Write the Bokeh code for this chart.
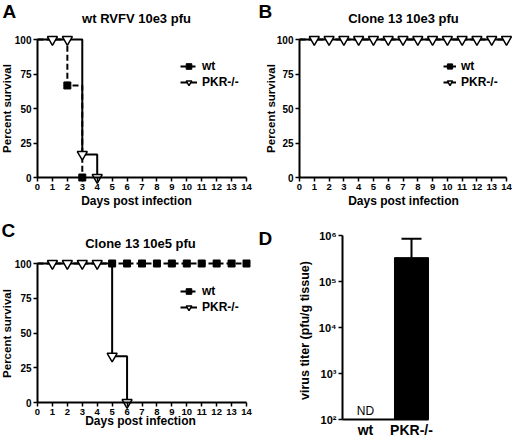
import math
from bokeh.plotting import figure
from bokeh.models import (Range1d, FixedTicker, Label, Legend,
                          Whisker, TeeHead, ColumnDataSource)
from bokeh.layouts import column, row
from bokeh.embed import file_html
from bokeh.resources import INLINE

FONT = "Liberation Sans"

# ---------------- data ----------------
day_ticks = [0, 1, 2, 3, 4, 5, 6, 7, 8, 9, 10, 11, 12, 13, 14]
surv_ticks = [0, 25, 50, 75, 100]
series_names = ["wt", "PKR-/-"]

# Panel A: wt RVFV 10e3 pfu
a_wt_days = [0, 2, 3]
a_wt_surv = [100, 66.7, 0]
a_wt_mark_days = [2, 3]
a_wt_mark_surv = [66.7, 0]
a_pkr_days = [0, 3, 4]
a_pkr_surv = [100, 16.7, 0]
a_pkr_mark_days = [1, 2, 3, 4]
a_pkr_mark_surv = [100, 100, 16.7, 0]

# Panel B: Clone 13 10e3 pfu (wt symbols hidden behind PKR-/- symbols)
b_wt_days = [0, 14]
b_wt_surv = [100, 100]
b_wt_mark_days = [1, 2, 3, 4, 5, 6, 7, 8, 9, 10, 11, 12, 13, 14]
b_wt_mark_surv = [100, 100, 100, 100, 100, 100, 100, 100, 100, 100, 100, 100, 100, 100]
b_pkr_days = [0, 14]
b_pkr_surv = [100, 100]
b_pkr_mark_days = [1, 2, 3, 4, 5, 6, 7, 8, 9, 10, 11, 12, 13, 14]
b_pkr_mark_surv = [100, 100, 100, 100, 100, 100, 100, 100, 100, 100, 100, 100, 100, 100]

# Panel C: Clone 13 10e5 pfu
c_wt_days = [0, 14]
c_wt_surv = [100, 100]
c_wt_mark_days = [5, 6, 7, 8, 9, 10, 11, 12, 13, 14]
c_wt_mark_surv = [100, 100, 100, 100, 100, 100, 100, 100, 100, 100]
c_pkr_days = [0, 5, 6]
c_pkr_surv = [100, 33.3, 0]
c_pkr_mark_days = [1, 2, 3, 4, 5, 6]
c_pkr_mark_surv = [100, 100, 100, 100, 33.3, 0]

# Panel D: virus titer (wt not detected)
groups = ["wt", "PKR-/-"]
titer = [None, 3.3e5]
titer_upper = [None, 8.5e5]
log_ticks = [1e2, 1e3, 1e4, 1e5, 1e6]
log_tick_labels = ["10\u00b2", "10\u00b3", "10\u2074", "10\u2075", "10\u2076"]

FIG_W = 256


def style_axis(ax, size):
    ax.axis_line_width = 2
    ax.axis_line_color = "black"
    ax.major_tick_line_width = 1.5
    ax.major_tick_line_color = "black"
    ax.major_tick_out = 4
    ax.major_tick_in = 0
    ax.minor_tick_line_color = None
    ax.major_label_text_font = FONT
    ax.major_label_text_font_style = "bold"
    ax.major_label_text_font_size = size
    ax.major_label_text_color = "black"
    ax.major_label_standoff = 2


def base_fig(h, xr, yr, **kw):
    p = figure(width=FIG_W, height=h, x_range=xr, y_range=yr,
               output_backend="svg", toolbar_location=None,
               min_border_left=0, min_border_right=0,
               min_border_top=0, min_border_bottom=0, **kw)
    p.title.visible = False
    p.outline_line_color = None
    p.grid.visible = False
    p.background_fill_color = "white"
    p.border_fill_color = "white"
    return p


def add_text(p, origin, fig_h, text, px, py, size, style="bold", angle=0.0,
             align="center", baseline="middle"):
    ox, oy = origin
    p.add_layout(Label(x=px - ox, y=oy + fig_h - py,
                       x_units="screen", y_units="screen",
                       text=text, angle=angle, text_font=FONT,
                       text_font_size=size, text_font_style=style,
                       text_align=align, text_baseline=baseline,
                       text_color="black"))


def survival_panel(origin, fig_h, x0_px, x14_px, y100_px, y0_px,
                   wt_days, wt_surv, wt_mdays, wt_msurv,
                   pkr_days, pkr_surv, pkr_mdays, pkr_msurv,
                   letter, letter_pos, title, title_pos, ylab_pos, xlab_pos,
                   leg_pos, glyph_w, wt_marks_visible=True):
    ox, oy = origin
    kx = (x14_px - x0_px) / (day_ticks[-1] - day_ticks[0])
    ky = (y0_px - y100_px) / (surv_ticks[-1] - surv_ticks[0])
    xr = Range1d((ox - x0_px) / kx, (ox + FIG_W - x0_px) / kx)
    yr = Range1d(-(oy + fig_h - y0_px) / ky, surv_ticks[-1] + (y100_px - oy) / ky)
    p = base_fig(fig_h, xr, yr)

    style_axis(p.xaxis[0], "9.5px")
    style_axis(p.yaxis[0], "10px")
    p.xaxis.ticker = FixedTicker(ticks=day_ticks)
    p.yaxis.ticker = FixedTicker(ticks=surv_ticks)
    p.xaxis.bounds = (day_ticks[0], day_ticks[-1])
    p.yaxis.bounds = (surv_ticks[0], surv_ticks[-1])
    p.xaxis.fixed_location = surv_ticks[0]
    p.yaxis.fixed_location = day_ticks[0]

    wl = p.step(wt_days, wt_surv, mode="after", line_color="black",
                line_width=2, line_dash="6 3")
    pl = p.step(pkr_days, pkr_surv, mode="after", line_color="black",
                line_width=2)
    wm = p.scatter(wt_mdays, wt_msurv, marker="square", size=7,
                   fill_color="black", line_color="black")
    wm.visible = wt_marks_visible
    pm = p.scatter(pkr_mdays, pkr_msurv, marker="inverted_triangle", size=10,
                   fill_color="white", line_color="black", line_width=1.5)

    leg = Legend(items=[(series_names[0], [wl, wm]), (series_names[1], [pl, pm])],
                 location=(leg_pos[0] - ox, oy + fig_h - leg_pos[1]),
                 glyph_width=glyph_w, glyph_height=14,
                 label_height=14, label_standoff=5, spacing=2, padding=0,
                 margin=0, border_line_color=None, background_fill_alpha=0,
                 label_text_font=FONT, label_text_font_style="bold",
                 label_text_font_size="12px", label_text_color="black")
    p.add_layout(leg)

    add_text(p, origin, fig_h, letter, letter_pos[0], letter_pos[1], "19px",
             align="left", baseline="top")
    add_text(p, origin, fig_h, title, title_pos[0], title_pos[1], "13px")
    add_text(p, origin, fig_h, "Percent survival", ylab_pos[0], ylab_pos[1],
             "11.5px", angle=math.pi / 2)
    add_text(p, origin, fig_h, "Days post infection", xlab_pos[0], xlab_pos[1],
             "12px")
    return p


pA = survival_panel((0, 0), 220, 37, 246, 39, 177,
                    a_wt_days, a_wt_surv, a_wt_mark_days, a_wt_mark_surv,
                    a_pkr_days, a_pkr_surv, a_pkr_mark_days, a_pkr_mark_surv,
                    "A", (2, 0), "wt RVFV 10e3 pfu", (136, 18),
                    (6, 108), (136, 200), (180, 89), 17)

pB = survival_panel((256, 0), 220, 299, 506, 39, 177,
                    b_wt_days, b_wt_surv, b_wt_mark_days, b_wt_mark_surv,
                    b_pkr_days, b_pkr_surv, b_pkr_mark_days, b_pkr_mark_surv,
                    "B", (258, 0), "Clone 13 10e3 pfu", (403, 18),
                    (270, 108), (403, 200), (443, 89), 13,
                    wt_marks_visible=False)

pC = survival_panel((0, 220), 218, 37, 246, 263, 402,
                    c_wt_days, c_wt_surv, c_wt_mark_days, c_wt_mark_surv,
                    c_pkr_days, c_pkr_surv, c_pkr_mark_days, c_pkr_mark_surv,
                    "C", (1, 219), "Clone 13 10e5 pfu", (140, 243),
                    (6, 333), (140, 420), (180, 314), 17)

# ---------------- Panel D ----------------
D_ORIGIN = (256, 220)
D_H = 218
d_ox, d_oy = D_ORIGIN
group_pos = list(range(len(groups)))
bar_width = 0.74
kx_d = 46.0                 # px per group
x_first_px = 365            # pixel of first group centre
y_top_px, y_bot_px = 235, 419
kdec = (y_bot_px - y_top_px) / (math.log10(log_ticks[-1]) - math.log10(log_ticks[0]))
xr_d = Range1d((d_ox - x_first_px) / kx_d, (d_ox + FIG_W - x_first_px) / kx_d)
yr_d = Range1d(10 ** (math.log10(log_ticks[0]) - (d_oy + D_H - y_bot_px) / kdec),
               10 ** (math.log10(log_ticks[-1]) + (y_top_px - d_oy) / kdec))
pD = base_fig(D_H, xr_d, yr_d, y_axis_type="log")

style_axis(pD.yaxis[0], "11px")
pD.yaxis.ticker = FixedTicker(ticks=log_ticks)
pD.yaxis.major_label_overrides = dict(zip(log_ticks, log_tick_labels))
pD.yaxis.fixed_location = group_pos[0] - 0.5
pD.yaxis.bounds = (log_ticks[0], log_ticks[-1])

style_axis(pD.xaxis[0], "14px")
pD.xaxis.ticker = FixedTicker(ticks=group_pos)
pD.xaxis.major_label_overrides = dict(zip(group_pos, groups))
pD.xaxis.major_tick_line_color = None
pD.xaxis.major_tick_out = 0
pD.xaxis.major_label_standoff = 2
pD.xaxis.fixed_location = log_ticks[0]
pD.xaxis.bounds = (group_pos[0] - 0.5, group_pos[-1] + bar_width / 2)

det = [i for i, t in enumerate(titer) if t is not None]
src = ColumnDataSource(dict(x=[group_pos[i] for i in det],
                            top=[titer[i] for i in det],
                            upper=[titer_upper[i] for i in det]))
pD.vbar(x="x", top="top", bottom=log_ticks[0], width=bar_width, source=src,
        fill_color="black", line_color="black")
pD.add_layout(Whisker(base="x", upper="upper", lower="top", source=src,
                      dimension="height", line_width=2, line_color="black",
                      upper_head=TeeHead(size=20, line_width=2, line_color="black"),
                      lower_head=None))

add_text(pD, D_ORIGIN, D_H, "D", 258, 227, "19px", align="left", baseline="top")
add_text(pD, D_ORIGIN, D_H, "virus titer (pfu/g tissue)", 304, 330, "12.5px",
         angle=math.pi / 2)
nd = [i for i, t in enumerate(titer) if t is None]
for i in nd:
    pD.add_layout(Label(x=group_pos[i], y=d_oy + D_H - 410, x_units="data",
                        y_units="screen", text="ND", text_font=FONT,
                        text_font_size="12px", text_align="center",
                        text_baseline="alphabetic", text_color="black"))

layout = column(row(pA, pB), row(pC, pD))
open("out.html", "w").write(file_html(layout, INLINE, "survival"))
